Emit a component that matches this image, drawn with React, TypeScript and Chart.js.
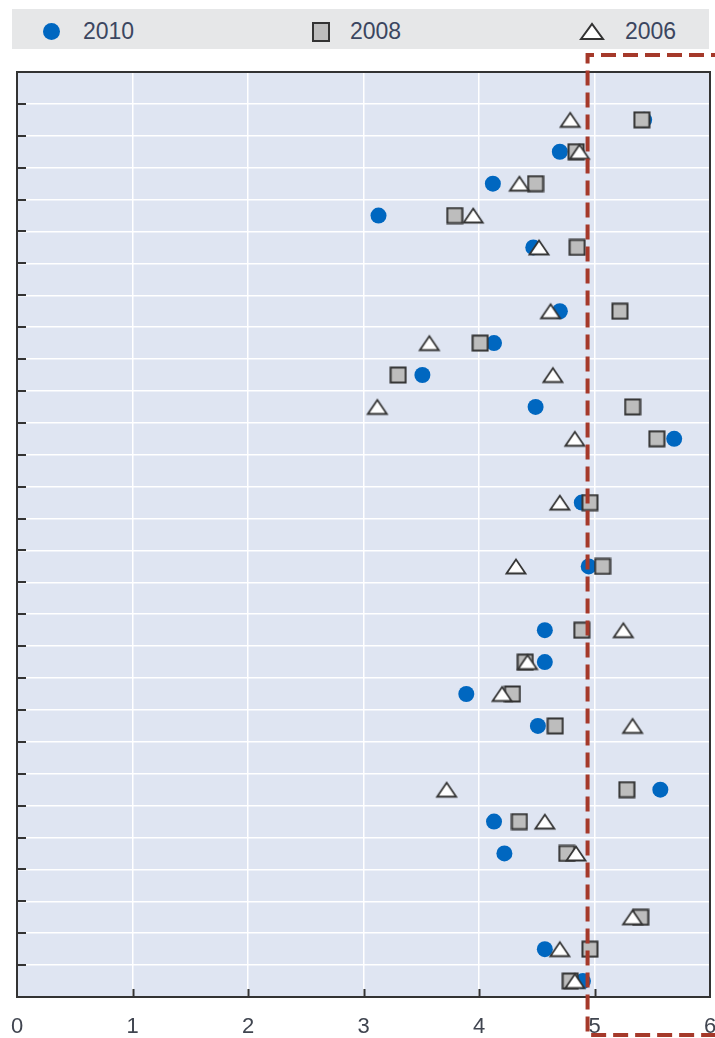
import React, { useEffect, useRef } from 'react';
import { Chart, registerables } from 'chart.js';

Chart.register(...registerables);

// 29 unlabeled rows, top to bottom
const rowLabels: string[] = [
  '', '', '', '', '', '', '', '', '', '', '', '', '', '', '',
  '', '', '', '', '', '', '', '', '', '', '', '', '', '',
];

const values2010: (number | null)[] = [
  null, 5.43, 4.70, 4.12, 3.13, 4.47, null, 4.70, 4.13, 3.51,
  4.49, 5.69, null, 4.89, null, 4.95, null, 4.57, 4.57, 3.89,
  4.51, null, 5.57, 4.13, 4.22, null, null, 4.57, 4.90,
];
const values2008: (number | null)[] = [
  null, 5.41, 4.84, 4.49, 3.79, 4.85, null, 5.22, 4.01, 3.30,
  5.33, 5.54, null, 4.96, null, 5.07, null, 4.89, 4.40, 4.29,
  4.66, null, 5.28, 4.35, 4.76, null, 5.40, 4.96, 4.79,
];
const values2006: (number | null)[] = [
  null, 4.79, 4.87, 4.35, 3.95, 4.52, null, 4.62, 3.57, 4.64,
  3.12, 4.83, null, 4.70, null, 4.32, null, 5.25, 4.42, 4.20,
  5.33, null, 3.72, 4.57, 4.84, null, 5.33, 4.70, 4.83,
];

const xTickValues = [0, 1, 2, 3, 4, 5, 6];
const thresholdValue = 4.94;

const seriesNames = ['2010', '2008', '2006'];

const BG = '#DFE5F2';
const BLUE = '#0067C0';
const GREY = '#BDBDBD';
const DARK = '#333333';
const RED = '#A5392A';
const TEXT = '#3B4660';

function toPoints(vals: (number | null)[]) {
  const pts: { x: number; y: number }[] = [];
  vals.forEach((v, i) => {
    if (v !== null) pts.push({ x: v, y: i + 0.5 });
  });
  return pts;
}

function makeSquare(): HTMLCanvasElement {
  const c = document.createElement('canvas');
  c.width = 18; c.height = 18;
  const ctx = c.getContext('2d')!;
  ctx.fillStyle = GREY;
  ctx.fillRect(1, 1, 16, 16);
  ctx.strokeStyle = DARK;
  ctx.lineWidth = 2;
  ctx.strokeRect(1.5, 1.5, 15, 15);
  return c;
}

function makeTriangle(): HTMLCanvasElement {
  const c = document.createElement('canvas');
  c.width = 24; c.height = 19;
  const ctx = c.getContext('2d')!;
  ctx.beginPath();
  ctx.moveTo(2.5, 16.5);
  ctx.lineTo(12, 2.5);
  ctx.lineTo(21.5, 16.5);
  ctx.closePath();
  ctx.fillStyle = '#FFFFFF';
  ctx.fill();
  ctx.strokeStyle = DARK;
  ctx.lineWidth = 1.8;
  ctx.lineJoin = 'miter';
  ctx.stroke();
  return c;
}

const framePlugin = {
  id: 'frame',
  beforeDraw(chart: any) {
    const { ctx, chartArea: a } = chart;
    ctx.save();
    ctx.fillStyle = BG;
    ctx.fillRect(a.left, a.top, a.right - a.left, a.bottom - a.top);
    ctx.restore();
  },
  afterDatasetsDraw(chart: any) {
    const { ctx, chartArea: a, scales } = chart;
    const xs = scales.x;
    const ys = scales.y;
    ctx.save();
    // frame
    ctx.strokeStyle = DARK;
    ctx.lineWidth = 2;
    ctx.strokeRect(a.left, a.top, a.right - a.left, a.bottom - a.top);
    // inward tick marks
    ctx.lineWidth = 2;
    ctx.beginPath();
    for (let v = 1; v < 6; v++) {
      const px = Math.round(xs.getPixelForValue(v)) + 0.5;
      ctx.moveTo(px, a.bottom);
      ctx.lineTo(px, a.bottom - 8);
    }
    for (let r = 1; r < rowLabels.length; r++) {
      const py = Math.round(ys.getPixelForValue(r));
      ctx.moveTo(a.left, py);
      ctx.lineTo(a.left + 9, py);
    }
    ctx.stroke();
    // red dashed frame
    const rx = xs.getPixelForValue(thresholdValue);
    ctx.strokeStyle = RED;
    ctx.lineWidth = 4;
    ctx.setLineDash([15, 7]);
    ctx.beginPath();
    ctx.moveTo(chart.width + 5, a.top - 17);
    ctx.lineTo(rx, a.top - 17);
    ctx.lineTo(rx, a.bottom + 38);
    ctx.lineTo(chart.width + 5, a.bottom + 38);
    ctx.stroke();
    ctx.restore();
  },
};

function ChartCanvas() {
  const ref = useRef<HTMLCanvasElement>(null);
  useEffect(() => {
    const square = makeSquare();
    const triangle = makeTriangle();
    const chart = new Chart(ref.current!, {
      type: 'scatter',
      data: {
        datasets: [
          {
            label: seriesNames[0],
            data: toPoints(values2010),
            pointStyle: 'circle',
            pointRadius: 8,
            pointHoverRadius: 8,
            backgroundColor: BLUE,
            borderWidth: 0,
            order: 3,
          },
          {
            label: seriesNames[1],
            data: toPoints(values2008),
            pointStyle: square,
            pointRadius: 9,
            backgroundColor: GREY,
            borderColor: DARK,
            order: 2,
          },
          {
            label: seriesNames[2],
            data: toPoints(values2006),
            pointStyle: triangle,
            pointRadius: 10,
            backgroundColor: '#fff',
            borderColor: DARK,
            order: 1,
          },
        ],
      },
      options: {
        animation: false,
        responsive: false,
        maintainAspectRatio: false,
        layout: { padding: { left: 17, right: 5, top: 72, bottom: 0 } },
        plugins: { legend: { display: false }, tooltip: { enabled: false } },
        scales: {
          x: {
            type: 'linear',
            min: 0,
            max: 6,
            afterBuildTicks: (s: any) => {
              s.ticks = xTickValues.map((v) => ({ value: v }));
            },
            afterFit: (s: any) => {
              s.height = 41;
              s.paddingLeft = 0;
              s.paddingRight = 0;
            },
            grid: { color: '#FFFFFF', lineWidth: 1.5, drawTicks: false },
            border: { display: false },
            ticks: {
              padding: 17,
              color: '#404550',
              font: { family: '"Liberation Sans", Arial, sans-serif', size: 22 },
            },
          },
          y: {
            type: 'linear',
            min: 0,
            max: rowLabels.length,
            reverse: true,
            afterBuildTicks: (s: any) => {
              s.ticks = rowLabels.map((_, i) => ({ value: i })).concat([{ value: rowLabels.length }]);
            },
            afterFit: (s: any) => {
              s.width = 0;
              s.paddingTop = 0;
              s.paddingBottom = 0;
            },
            grid: { color: '#FFFFFF', lineWidth: 1.5, drawTicks: false },
            border: { display: false },
            ticks: { display: false },
          },
        },
      },
      plugins: [framePlugin],
    });
    return () => chart.destroy();
  }, []);
  return <canvas ref={ref} width={721} height={1038} style={{ position: 'absolute', left: 0, top: 0 }} />;
}

function Legend() {
  const font = '"Liberation Sans", Arial, sans-serif';
  const textStyle: React.CSSProperties = {
    position: 'absolute',
    top: 11,
    fontFamily: font,
    fontSize: 23,
    lineHeight: '23px',
    color: TEXT,
  };
  return (
    <div style={{ position: 'absolute', left: 12, top: 9, width: 697, height: 40, background: '#E6E7E8' }}>
      <div style={{ position: 'absolute', left: 31, top: 14, width: 17, height: 17, borderRadius: '50%', background: BLUE }} />
      <div style={{ ...textStyle, left: 71 }}>{seriesNames[0]}</div>
      <div style={{ position: 'absolute', left: 300, top: 13, width: 14, height: 16, background: GREY, border: `2px solid ${DARK}` }} />
      <div style={{ ...textStyle, left: 338 }}>{seriesNames[1]}</div>
      <svg style={{ position: 'absolute', left: 567, top: 12 }} width={26} height={20}>
        <polygon points="2,18 13,3 24,18" fill="#fff" stroke={DARK} strokeWidth={2} />
      </svg>
      <div style={{ ...textStyle, left: 613 }}>{seriesNames[2]}</div>
    </div>
  );
}

export default function App() {
  return (
    <div style={{ position: 'absolute', left: 0, top: 0, width: 715, height: 1038, overflow: 'hidden' }}>
      <ChartCanvas />
      <Legend />
    </div>
  );
}
